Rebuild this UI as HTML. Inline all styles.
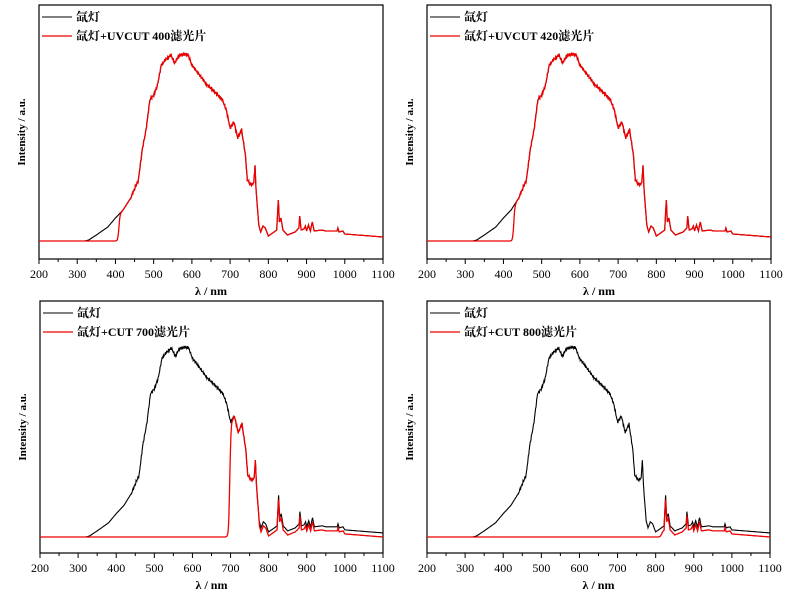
<!DOCTYPE html>
<html><head><meta charset="utf-8"><style>
body{margin:0;background:#fff;}
svg{display:block;font-family:"Liberation Serif","Noto Serif CJK SC",serif;}
</style></head><body>
<svg id="s" width="800" height="600" xmlns="http://www.w3.org/2000/svg"></svg>
<script>
const K=[[200,241],[320,241],[330,240],[350,235],[380,227],[400,218],[420,210],[440,198],[460,180],[470,150],[480,130],[490,100],[500,95],[510,85],[520,65],[530,60],[545,55],[555,63],[565,56],[580,54],[590,55],[600,65],[620,75],[640,85],[660,92],[680,100],[690,110],[700,128],[710,122],[720,138],[730,130],[740,155],[745,180],[755,185],[762,183],[765,165],[768,190],[775,225],[780,232],[786,226],[792,228],[800,236],[815,232],[822,230],[826,200],[829,222],[833,218],[838,230],[850,235],[870,232],[880,228],[882,216],[886,230],[893,229],[897,226],[900,231],[905,225],[910,231],[915,222],[920,231],[940,230],[950,231],[980,231],[982,228],[985,232],[995,231],[1000,234],[1100,237]];
function bl(l){for(let i=0;i<K.length-1;i++){if(l>=K[i][0]&&l<=K[i+1][0]){const t=(l-K[i][0])/(K[i+1][0]-K[i][0]);return K[i][1]+t*(K[i+1][1]-K[i][1]);}}return 241;}
function noise(l){if(l<440||l>770)return 0;return 1.6*Math.sin(l*2.7)*Math.cos(l*1.3);}
function blk(l){return 241-bl(l)-noise(l);}
function sig(x){return 1/(1+Math.exp(-x));}
const S=document.getElementById('s');let h='';
const P=[{x0:39,x1:383,t:5,b:259,base:241,pk:54,leg:'氙灯+UVCUT 400滤光片',f:l=>blk(l)*sig((l-409)/1.5)},
{x0:427,x1:771,t:5,b:259,base:241,pk:54,leg:'氙灯+UVCUT 420滤光片',f:l=>blk(l)*sig((l-427)/1.5)},
{x0:40,x1:383,t:301,b:553,base:537,pk:347,leg:'氙灯+CUT 700滤光片',f:l=>Math.max(0,(blk(l)-(l>775?4:0)))*sig((l-698)/1.5)},
{x0:427,x1:770,t:301,b:553,base:537,pk:347,leg:'氙灯+CUT 800滤光片',f:l=>Math.max(0,(blk(l)-4))*sig((l-815)/2)}];
for(const p of P){
 const sc=(p.base-p.pk)/187, X=l=>p.x0+(l-200)*(p.x1-p.x0)/900;
 h+=`<rect x="${p.x0}" y="${p.t}" width="${p.x1-p.x0}" height="${p.b-p.t}" fill="none" stroke="#000" stroke-width="1.2"/>`;
 for(let l=200;l<=1100;l+=50){const x=X(l);h+=`<line x1="${x}" y1="${p.b}" x2="${x}" y2="${p.b+(l%100?3:5)}" stroke="#000"/>`;
  if(l%100==0)h+=`<text x="${x}" y="${p.b+19}" font-size="12" text-anchor="middle">${l}</text>`;}
 h+=`<text x="${(p.x0+p.x1)/2}" y="${p.b+36}" font-size="12" font-weight="bold" text-anchor="middle">λ / nm</text>`;
 h+=`<text transform="translate(${p.x0-14},${(p.t+p.b)/2}) rotate(-90)" font-size="11" font-weight="bold" text-anchor="middle">Intensity / a.u.</text>`;
 let db='',dr='';
 for(let l=200;l<=1100;l+=1){const x=X(l).toFixed(1);db+=(l==200?'M':'L')+x+','+(p.base-blk(l)*sc).toFixed(1);dr+=(l==200?'M':'L')+x+','+(p.base-p.f(l)*sc).toFixed(1);}
 h+=`<path d="${db}" fill="none" stroke="#000" stroke-width="1.1"/>`;
 h+=`<path d="${dr}" fill="none" stroke="#e00" stroke-width="1.3"/>`;
 h+=`<line x1="${p.x0+3}" y1="${p.t+12}" x2="${p.x0+33}" y2="${p.t+12}" stroke="#000"/><text x="${p.x0+37}" y="${p.t+16}" font-size="12" font-weight="bold">氙灯</text>`;
 h+=`<line x1="${p.x0+3}" y1="${p.t+31}" x2="${p.x0+33}" y2="${p.t+31}" stroke="#e00" stroke-width="1.3"/><text x="${p.x0+37}" y="${p.t+35}" font-size="12" font-weight="bold">${p.leg}</text>`;
}
S.innerHTML=h;
</script>
</body></html>
